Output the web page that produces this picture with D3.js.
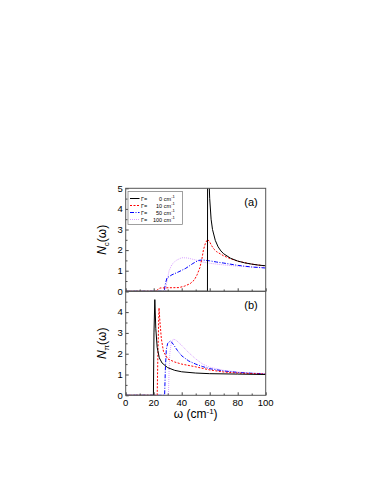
<!DOCTYPE html>
<html>
<head>
<meta charset="utf-8">
<script src="https://cdn.jsdelivr.net/npm/d3@7"></script>
<style>
  body { margin: 0; background: #fff; }
  text { font-family: "Liberation Sans", Arial, sans-serif; fill: #000; }
</style>
</head>
<body>
<div id="chart"></div>
<script>
// Data: [omega (cm^-1), N(omega)]
var gammaLabels = ["0", "10", "50", "100"];

var panelA_g0 = [[0,0],[58.4,0],[58.5,5.6],[59.5,5.4],[60,4.5],[61,3.5],[62,3.0],[64,2.47],[66,2.16],[68,1.96],[70,1.82],[75,1.6],[80,1.47],[85,1.38],[90,1.32],[95,1.27],[100,1.24]];
var panelA_g10 = [[0,0],[21.8,0],[23,0.1],[24.5,0.16],[29,0.17],[38,0.18],[42,0.25],[46,0.37],[49,0.55],[51,0.8],[53,1.15],[54.5,1.6],[55.5,2.0],[57,2.35],[58.5,2.52],[60,2.4],[61.5,2.2],[63,2.05],[65,1.92],[70,1.72],[75,1.58],[80,1.46],[90,1.32],[100,1.23]];
var panelA_g50 = [[0,0],[27.5,0],[28.3,0.35],[29.5,0.65],[33,0.8],[38,0.95],[43,1.12],[48,1.35],[52,1.5],[55,1.52],[60,1.48],[65,1.42],[70,1.37],[80,1.26],[90,1.18],[100,1.13]];
var panelA_g100 = [[0,0],[28.5,0],[29.5,0.5],[31,1.0],[33,1.3],[36,1.5],[40,1.63],[44,1.62],[50,1.52],[55,1.42],[60,1.36],[70,1.28],[80,1.22],[90,1.18],[100,1.15]];

var panelB_g0 = [[0,0],[19.8,0],[20.2,3.0],[20.8,4.6],[21.5,3.2],[22.5,2.3],[24,1.8],[26,1.55],[30,1.33],[35,1.2],[40,1.13],[50,1.07],[60,1.04],[80,1.02],[100,1.0]];
var panelB_g10 = [[0,0],[22.5,0],[23,2.0],[23.8,4.2],[24.5,3.5],[25.5,2.7],[27,2.1],[30,1.75],[35,1.6],[40,1.5],[50,1.37],[60,1.22],[70,1.12],[80,1.07],[100,1.02]];
var panelB_g50 = [[0,0],[27.8,0],[28.3,1.2],[29,2.2],[30,2.5],[32,2.62],[34,2.45],[37,2.15],[40,1.9],[45,1.65],[50,1.5],[55,1.38],[60,1.28],[70,1.17],[80,1.1],[90,1.06],[100,1.03]];
var panelB_g100 = [[0,0],[30.5,0],[31,1.2],[31.5,2.0],[32.5,2.5],[34,2.7],[36,2.65],[40,2.4],[45,2.05],[50,1.75],[55,1.5],[60,1.35],[70,1.2],[80,1.12],[90,1.07],[100,1.04]];

var xTicks = [0, 20, 40, 60, 80, 100];
var yTicks = [0, 1, 2, 3, 4, 5];

var styles = [
    {color: "#000000", dash: null, width: 1},
    {color: "#ff0000", dash: "2,1.5", width: 1},
    {color: "#0000ff", dash: "4,1.5,1,1.5", width: 1},
    {color: "#d9a3ff", dash: "1,1", width: 1}
];

var W = 388, H = 502;
var left = 125.7, right = 265.7;

var svg = d3.select("#chart").append("svg")
    .attr("width", W)
    .attr("height", H);

var x = d3.scaleLinear().domain([0, 100]).range([left, right]);

var panels = [
    {id: "a", top: 188.3, bottom: 291.3, series: [panelA_g0, panelA_g10, panelA_g50, panelA_g100], sub: "c", tag: "(a)", xLabels: false},
    {id: "b", top: 291.3, bottom: 395.3, series: [panelB_g0, panelB_g10, panelB_g50, panelB_g100], sub: "π", tag: "(b)", xLabels: true}
];

panels.forEach(function(p) {
    var y = d3.scaleLinear().domain([0, 5]).range([p.bottom, p.top]);
    var g = svg.append("g").attr("class", "panel-" + p.id);

    g.append("clipPath").attr("id", "clip-" + p.id)
        .append("rect")
        .attr("x", left).attr("y", p.top)
        .attr("width", right - left).attr("height", p.bottom - p.top);

    // curves
    var line = d3.line()
        .x(function(d) { return x(d[0]); })
        .y(function(d) { return y(d[1]); });

    p.series.slice().reverse().forEach(function(s, i) {
        var st = styles[p.series.length - 1 - i];
        g.append("path")
            .datum(s)
            .attr("clip-path", "url(#clip-" + p.id + ")")
            .attr("d", line)
            .attr("fill", "none")
            .attr("stroke", st.color)
            .attr("stroke-width", st.width)
            .attr("stroke-dasharray", st.dash);
    });

    // axes, ticks inward
    var xAxis = d3.axisTop(x).tickValues(d3.range(0, 101, 10)).tickSize(3).tickFormat("");
    var xg = g.append("g")
        .attr("transform", "translate(0," + p.bottom + ")")
        .call(xAxis);
    xg.selectAll(".tick line")
        .attr("y2", function(d) { return d % 20 === 0 ? -3 : -1.8; })
        .attr("stroke", "#444");
    xg.select(".domain").remove();

    var yAxis = d3.axisRight(y).tickValues(d3.range(0, 5.01, 0.5)).tickSize(3).tickFormat("");
    var yg = g.append("g")
        .attr("transform", "translate(" + left + ",0)")
        .call(yAxis);
    yg.selectAll(".tick line")
        .attr("x2", function(d) { return d % 1 === 0 ? 3 : 1.8; })
        .attr("stroke", "#444");
    yg.select(".domain").remove();

    // y tick labels
    g.selectAll(".ylab")
        .data(yTicks.filter(function(d) { return p.id === "a" || d < 5; }))
        .enter().append("text")
        .attr("x", left - 3)
        .attr("y", function(d) { return y(d) + 3.3; })
        .attr("text-anchor", "end")
        .style("font-size", "9.5px")
        .text(function(d) { return d; });

    if (p.xLabels) {
        g.selectAll(".xlab")
            .data(xTicks)
            .enter().append("text")
            .attr("x", function(d) { return x(d); })
            .attr("y", p.bottom + 10.5)
            .attr("text-anchor", "middle")
            .style("font-size", "9.5px")
            .text(function(d) { return d; });
    }

    // frame
    g.append("rect")
        .attr("x", left).attr("y", p.top)
        .attr("width", right - left).attr("height", p.bottom - p.top)
        .attr("fill", "none")
        .attr("stroke", "#555")
        .attr("stroke-width", 1);

    // panel tag
    g.append("text")
        .attr("x", right - 8)
        .attr("y", p.top + 18)
        .attr("text-anchor", "end")
        .style("font-size", "11px")
        .text(p.tag);

    // y label
    var yl = g.append("text")
        .attr("transform", "translate(" + 106 + "," + ((p.top + p.bottom) / 2) + ") rotate(-90)")
        .attr("text-anchor", "middle")
        .style("font-size", "12px");
    yl.append("tspan").style("font-style", "italic").text("N");
    yl.append("tspan").attr("dy", 3).style("font-size", "8px").text(p.sub);
    yl.append("tspan").attr("dy", -3).text("(ω)");
});

// x-axis label
var xl = svg.append("text")
    .attr("x", (left + right) / 2)
    .attr("y", 418)
    .attr("text-anchor", "middle")
    .style("font-size", "12px");
xl.append("tspan").text("ω (cm");
xl.append("tspan").attr("dy", -4).style("font-size", "8px").text("-1");
xl.append("tspan").attr("dy", 4).text(")");

// legend
var lg = svg.append("g").attr("class", "legend");
lg.append("rect")
    .attr("x", 128).attr("y", 191.5)
    .attr("width", 54.5).attr("height", 33)
    .attr("fill", "#fff")
    .attr("stroke", "#777")
    .attr("stroke-width", 0.7);

gammaLabels.forEach(function(gm, i) {
    var yy = 198.5 + i * 7;
    var st = styles[i];
    lg.append("line")
        .attr("x1", 130).attr("x2", 139.5)
        .attr("y1", yy).attr("y2", yy)
        .attr("stroke", st.color)
        .attr("stroke-width", st.width)
        .attr("stroke-dasharray", st.dash);
    lg.append("text")
        .attr("x", 141).attr("y", yy + 2)
        .style("font-size", "5.5px")
        .text("Γ=");
    var t = lg.append("text")
        .attr("x", 171).attr("y", yy + 2)
        .attr("text-anchor", "end")
        .style("font-size", "5.5px")
        .text(gm + " cm");
    lg.append("text")
        .attr("x", 171.2).attr("y", yy - 0.3)
        .style("font-size", "4px")
        .text("-1");
});
</script>
</body>
</html>
